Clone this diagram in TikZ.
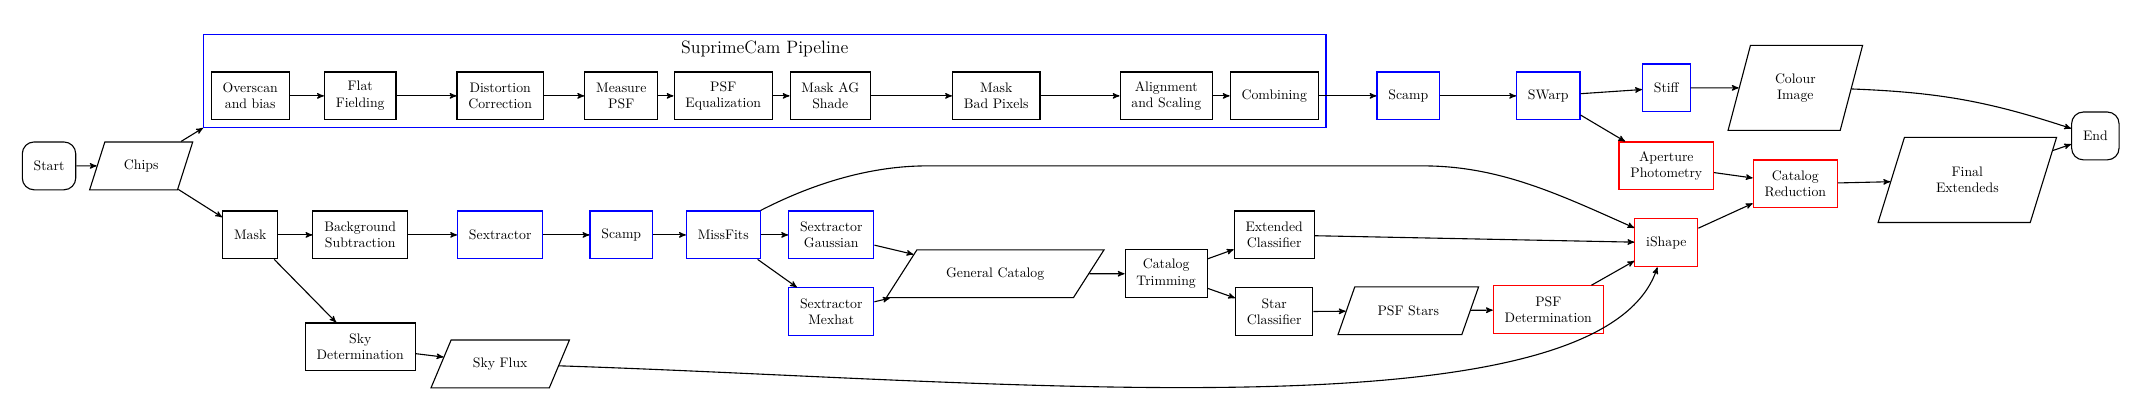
\documentclass[tikz,border=0pt]{standalone}
\usetikzlibrary{shapes.geometric,arrows,fit,positioning}
\begin{document}
\begin{tikzpicture}[node distance=25mm, >=stealth']
\tikzstyle{process}=[rectangle, thick, draw=black, align=center,
minimum height=12.2mm, inner xsep=2.9mm]
\tikzstyle{tool}=[process, draw=blue]
\tikzstyle{newtool}=[process, draw=red]
\tikzstyle{io}=[trapezium, trapezium stretches, thick, draw=black,
align=center, minimum height=12.2mm]
\tikzstyle{terminal}=[rectangle, rounded corners=3mm, thick, draw=black,
minimum height=12.2mm, inner xsep=2.9mm]
\useasboundingbox (0,0) rectangle (546.7mm,-105.3mm);

\node[terminal] at (12.5mm,-42.3mm) (start) {Start};
\node[io, right of=start, xshift=-1.5mm, trapezium left angle=67, trapezium right angle=113, minimum width=26.3mm] (chips) {Chips};

% lower branch
\node[process, right of=chips, xshift=2.8mm, yshift=-17.6mm] (mask) {Mask};
\node[process, right of=mask, xshift=3.05mm] (bgsub) {Background\\Subtraction};
\node[tool, right of=bgsub, xshift=10.7mm] (sex) {Sextractor};
\node[tool, right of=sex, xshift=5.86mm] (scamplow) {Scamp};
\node[tool, right of=scamplow, xshift=1.01mm] (missfits) {MissFits};
\node[tool, right of=missfits, xshift=2.54mm] (sexgauss) {Sextractor\\Gaussian};
\node[tool, below of=sexgauss, yshift=5.4mm] (sexmex) {Sextractor\\Mexhat};
\node[io, right of=sexgauss, xshift=16.8mm, yshift=-9.9mm, trapezium left angle=46, trapezium right angle=134, minimum width=55.6mm] (gencat) {General Catalog};
\node[process, right of=gencat, xshift=18.6mm] (trim) {Catalog\\Trimming};
\node[process, right of=trim, xshift=2.54mm, yshift=9.9mm] (extclass) {Extended\\Classifier};
\node[process, below of=extclass, yshift=5.4mm] (starclass) {Star\\Classifier};
\node[io, right of=starclass, xshift=9.2mm, yshift=0.26mm, trapezium left angle=60, trapezium right angle=120, minimum width=36mm] (psfstars) {PSF Stars};
\node[newtool, right of=psfstars, xshift=10.7mm, yshift=0.26mm] (psfdet) {PSF\\Determination};
\node[process, below of=bgsub, yshift=-3.56mm] (skydet) {Sky\\Determination};
\node[io, right of=skydet, xshift=10.7mm, yshift=-4.34mm, trapezium left angle=59, trapezium right angle=121, minimum width=35.4mm] (skyflux) {Sky Flux};

% pipeline
\node[process, above of=mask, yshift=10.45mm] (overscan) {Overscan\\and bias};
\node[process, right of=overscan, xshift=3.05mm] (flat) {Flat\\Fielding};
\node[process, right of=flat, xshift=10.7mm] (distort) {Distortion\\Correction};
\node[process, right of=distort, xshift=5.86mm] (measpsf) {Measure\\PSF};
\node[process, right of=measpsf, xshift=1.01mm] (psfeq) {PSF\\Equalization};
\node[process, right of=psfeq, xshift=2.29mm] (agshade) {Mask AG\\Shade};
\node[process, right of=agshade, xshift=17.33mm] (badpix) {Mask\\Bad Pixels};
\node[process, right of=badpix, xshift=18.35mm] (alignscale) {Alignment\\and Scaling};
\node[process, right of=alignscale, xshift=2.54mm] (combine) {Combining};
\coordinate[above of=overscan, yshift=-11.2mm] (pipetop);
\node[draw=blue, thick, fit=(overscan)(combine)(pipetop), inner sep=1.8mm] (pipeline) {};
\node[below=0.5mm of pipeline.north, font=\fontsize{13}{15}\selectfont] (pipetitle) {SuprimeCam Pipeline};

% after the pipeline
\node[tool, right of=combine, xshift=9.17mm] (scamptop) {Scamp};
\node[tool, right of=scamptop, xshift=10.7mm] (swarp) {SWarp};
\node[tool, right of=swarp, xshift=5.09mm, yshift=2.04mm] (stiff) {Stiff};
\node[io, right of=stiff, xshift=7.9mm, minimum height=21.7mm, minimum width=34.4mm, trapezium left angle=72, trapezium right angle=108] (colour) {Colour\\Image};
\node[newtool, below of=stiff, yshift=5.1mm] (aperture) {Aperture\\Photometry};
\node[newtool, right of=aperture, xshift=7.9mm, yshift=-4.59mm] (catred) {Catalog\\Reduction};
\node[newtool, below of=aperture, yshift=5.4mm] (ishape) {iShape};
\node[io, right of=catred, xshift=18.86mm, yshift=1.02mm, minimum height=21.7mm, minimum width=45.6mm, trapezium left angle=67, trapezium right angle=113] (final) {Final\\Extendeds};
\node[terminal, right of=final, xshift=7.64mm, yshift=11.22mm] (end) {End};

% control points
\coordinate (mfc0) at (204.0mm,-48.5mm);
\coordinate (mfc1) at (219.3mm,-42.3mm);
\coordinate (mfa) at (236.4mm,-42.3mm);
\coordinate (mfb) at (362.9mm,-42.3mm);
\coordinate (mfc2) at (382.5mm,-42.3mm);
\coordinate (mfc3) at (397.8mm,-49.7mm);
\coordinate (sfc1) at (255mm,-96.9mm);
\coordinate (sfc2) at (408mm,-112.2mm);

\path[->,thick] (start) edge (chips);
\path[->,thick] (chips) edge (pipeline.south west);
\path[->,thick] (chips) edge (mask);
\path[->,thick] (overscan) edge (flat);
\path[->,thick] (flat) edge (distort);
\path[->,thick] (distort) edge (measpsf);
\path[->,thick] (measpsf) edge (psfeq);
\path[->,thick] (psfeq) edge (agshade);
\path[->,thick] (agshade) edge (badpix);
\path[->,thick] (badpix) edge (alignscale);
\path[->,thick] (alignscale) edge (combine);
\path[->,thick] (combine) edge (scamptop);
\path[->,thick] (scamptop) edge (swarp);
\path[->,thick] (swarp) edge (stiff);
\path[->,thick] (swarp) edge (aperture);
\path[->,thick] (stiff) edge (colour);
\path[->,thick] (colour) edge[bend left=8] (end);
\path[->,thick] (aperture) edge (catred);
\path[->,thick] (ishape) edge (catred);
\path[->,thick] (catred) edge (final);
\path[->,thick] (final) edge (end);
\path[->,thick] (mask) edge (bgsub);
\path[->,thick] (bgsub) edge (sex);
\path[->,thick] (sex) edge (scamplow);
\path[->,thick] (scamplow) edge (missfits);
\path[->,thick] (missfits) edge (sexgauss);
\path[->,thick] (missfits) edge (sexmex);
\path[->,thick] (sexgauss) edge (gencat);
\path[->,thick] (sexmex) edge (gencat);
\path[->,thick] (gencat) edge (trim);
\path[->,thick] (trim) edge (extclass);
\path[->,thick] (trim) edge (starclass);
\path[->,thick] (extclass) edge (ishape);
\path[->,thick] (starclass) edge (psfstars);
\path[->,thick] (psfstars) edge (psfdet);
\path[->,thick] (psfdet) edge (ishape);
\path[->,thick] (mask) edge (skydet);
\path[->,thick] (skydet) edge (skyflux);
\draw[->,thick] (missfits.north east) .. controls (mfc0) and (mfc1) .. (mfa) -- (mfb) .. controls (mfc2) and (mfc3) .. (ishape.155);
\draw[->,thick] (skyflux) .. controls (sfc1) and (sfc2) .. (ishape.250);

\end{tikzpicture}
\end{document}
